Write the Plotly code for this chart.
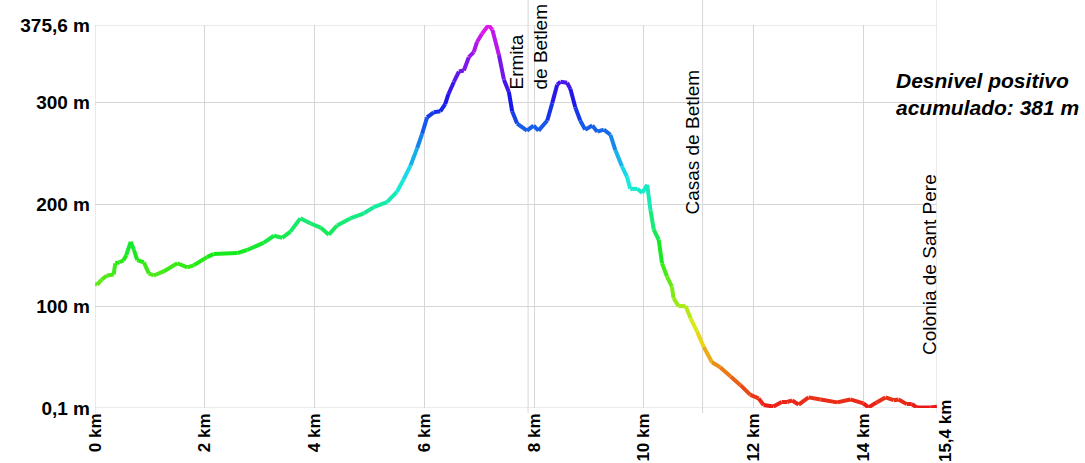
import colorsys
import plotly.graph_objects as go

dist_km = [0.00, 0.04, 0.12, 0.22, 0.34, 0.37, 0.45, 0.52, 0.57, 0.65, 0.71, 0.77, 0.89, 0.98,
           1.07, 1.25, 1.50, 1.68, 1.80, 2.04, 2.16, 2.59, 2.77, 3.07, 3.26, 3.41, 3.56, 3.74,
           3.93, 4.11, 4.26, 4.41, 4.65, 4.90, 5.08, 5.32, 5.50, 5.62, 5.75, 5.87, 5.96, 6.05,
           6.17, 6.29, 6.38, 6.44, 6.54, 6.63, 6.72, 6.81, 6.90, 6.96, 7.05, 7.17, 7.24, 7.36,
           7.45, 7.54, 7.60, 7.69, 7.87, 7.99, 8.08, 8.24, 8.33, 8.42, 8.48, 8.60, 8.66, 8.75,
           8.84, 8.93, 9.06, 9.15, 9.27, 9.39, 9.48, 9.60, 9.69, 9.75, 9.88, 9.97, 10.06, 10.12,
           10.18, 10.27, 10.33, 10.42, 10.51, 10.54, 10.63, 10.76, 10.85, 10.97, 11.09, 11.24,
           11.39, 11.58, 11.76, 11.94, 12.09, 12.18, 12.36, 12.51, 12.61, 12.70, 12.82, 13.00,
           13.22, 13.52, 13.76, 14.00, 14.09, 14.24, 14.40, 14.55, 14.64, 14.79, 14.88, 14.97,
           15.22, 15.34]
elev_m = [122, 121, 126, 130, 131, 142, 143, 145, 150, 163, 155, 145, 143, 132,
          130, 134, 142, 138, 140, 148, 151, 152, 155, 162, 169, 167, 173, 186,
          181, 177, 170, 179, 186, 191, 197, 202, 212, 224, 238, 255, 269, 285,
          290, 291, 298, 308, 320, 330, 331, 344, 349, 359, 367, 375.5, 371, 346,
          322, 310, 291, 279, 272, 277, 272, 282, 299, 317, 320, 319, 313, 295,
          282, 273, 277, 271, 273, 268, 253, 237, 227, 215, 215, 211, 219, 194,
          175, 165, 142, 129, 119, 108, 100, 100, 88, 75, 60, 45,
          40, 31, 22.5, 13, 9.5, 3, 1.5, 6, 6, 7.5, 3.5, 10.5,
          8.5, 5.6, 8.5, 4.6, 0.7, 5.6, 10.5, 7.8, 8.5, 3.9, 4, 0.7,
          0.5, 1.3]

x_tick_vals = [0, 2, 4, 6, 8, 10, 12, 14, 15.34]
x_tick_text = ["0 km", "2 km", "4 km", "6 km", "8 km", "10 km", "12 km", "14 km", ""]
end_label = "15,4 km"
y_tick_vals = [0.1, 100, 200, 300, 375.6]
y_tick_text = ["0,1 m", "100 m", "200 m", "300 m", "375,6 m"]

waypoint_km = [7.89, 11.07, 15.34]
waypoint_names = ["Ermita<br>de Betlem", "Casas de Betlem", "Colònia de Sant Pere"]
label_x_km = [7.90, 10.89, 15.20]
label_y_m = [310, 188, 50]

X_MAX = 15.34
Y_MIN, Y_MAX = 0.1, 375.6
GRID = "#d6d6d6"
FONT = "Liberation Sans, Arial, sans-serif"


def elev_color(e):
    h = max(0.0, min(1.0, e / Y_MAX)) * 300.0 / 360.0
    r, g, b = colorsys.hsv_to_rgb(h, 0.9, 0.92)
    return f"rgb({int(r*255)},{int(g*255)},{int(b*255)})"


fig = go.Figure()
for i in range(len(dist_km) - 1):
    mid = (elev_m[i] + elev_m[i + 1]) / 2
    fig.add_trace(go.Scatter(
        x=[dist_km[i], dist_km[i + 1]], y=[elev_m[i], elev_m[i + 1]],
        mode="lines", line=dict(color=elev_color(mid), width=4),
        hoverinfo="skip", showlegend=False))

shapes = []
for wk in waypoint_km:
    shapes.append(dict(type="line", xref="x", yref="paper", x0=wk, x1=wk,
                       y0=-0.013, y1=1.07, line=dict(color=GRID, width=1), layer="below"))
shapes.append(dict(type="line", xref="paper", yref="y", x0=0, x1=1, y0=Y_MIN, y1=Y_MIN,
                   line=dict(color=GRID, width=1), layer="below"))
shapes.append(dict(type="line", xref="paper", yref="y", x0=0, x1=1, y0=Y_MAX, y1=Y_MAX,
                   line=dict(color=GRID, width=1), layer="below"))
shapes.append(dict(type="line", xref="x", yref="paper", x0=0, x1=0, y0=-0.013, y1=1,
                   line=dict(color=GRID, width=1), layer="below"))

annotations = []
for name, lx, ly in zip(waypoint_names, label_x_km, label_y_m):
    annotations.append(dict(x=lx, y=ly, xref="x", yref="y", text=name, textangle=-90,
                            showarrow=False, xanchor="center", yanchor="bottom", align="left",
                            font=dict(family=FONT, size=19, color="black")))
annotations.append(dict(x=0.949, y=308, xref="paper", yref="y",
                        text="<b><i>Desnivel positivo<br>acumulado: 381 m</i></b>",
                        showarrow=False, xanchor="left", yanchor="middle", align="left",
                        font=dict(family=FONT, size=21, color="black")))
annotations.append(dict(x=1.0095, y=0.026, xref="paper", yref="paper", text=f"<b>{end_label}</b>",
                        textangle=-90, showarrow=False, xanchor="center", yanchor="top",
                        font=dict(family=FONT, size=17, color="black")))

y_tick_font = dict(family=FONT, size=19, color="black", weight="bold")
x_tick_font = dict(family=FONT, size=17, color="black", weight="bold")

fig.update_layout(
    width=1085, height=463,
    margin=dict(l=95, r=148, t=25, b=55, autoexpand=False),
    paper_bgcolor="white", plot_bgcolor="white",
    shapes=shapes, annotations=annotations,
    xaxis=dict(range=[0, X_MAX], tickmode="array", tickvals=x_tick_vals, ticktext=x_tick_text,
               tickangle=-90, showgrid=True, gridcolor=GRID, gridwidth=1, zeroline=False,
               showline=False, ticks="", tickfont=x_tick_font, fixedrange=True,
               automargin=False, ticklabelstandoff=1),
    yaxis=dict(range=[Y_MIN, Y_MAX], tickmode="array", tickvals=y_tick_vals, ticktext=y_tick_text,
               showgrid=True, gridcolor=GRID, gridwidth=1, zeroline=False, showline=False,
               ticks="", tickfont=y_tick_font, fixedrange=True, automargin=False,
               ticklabelstandoff=4),
)

fig.write_html("out.html", config={"displayModeBar": False},
               post_script="document.body.style.margin='0';document.body.style.overflow='hidden';")
